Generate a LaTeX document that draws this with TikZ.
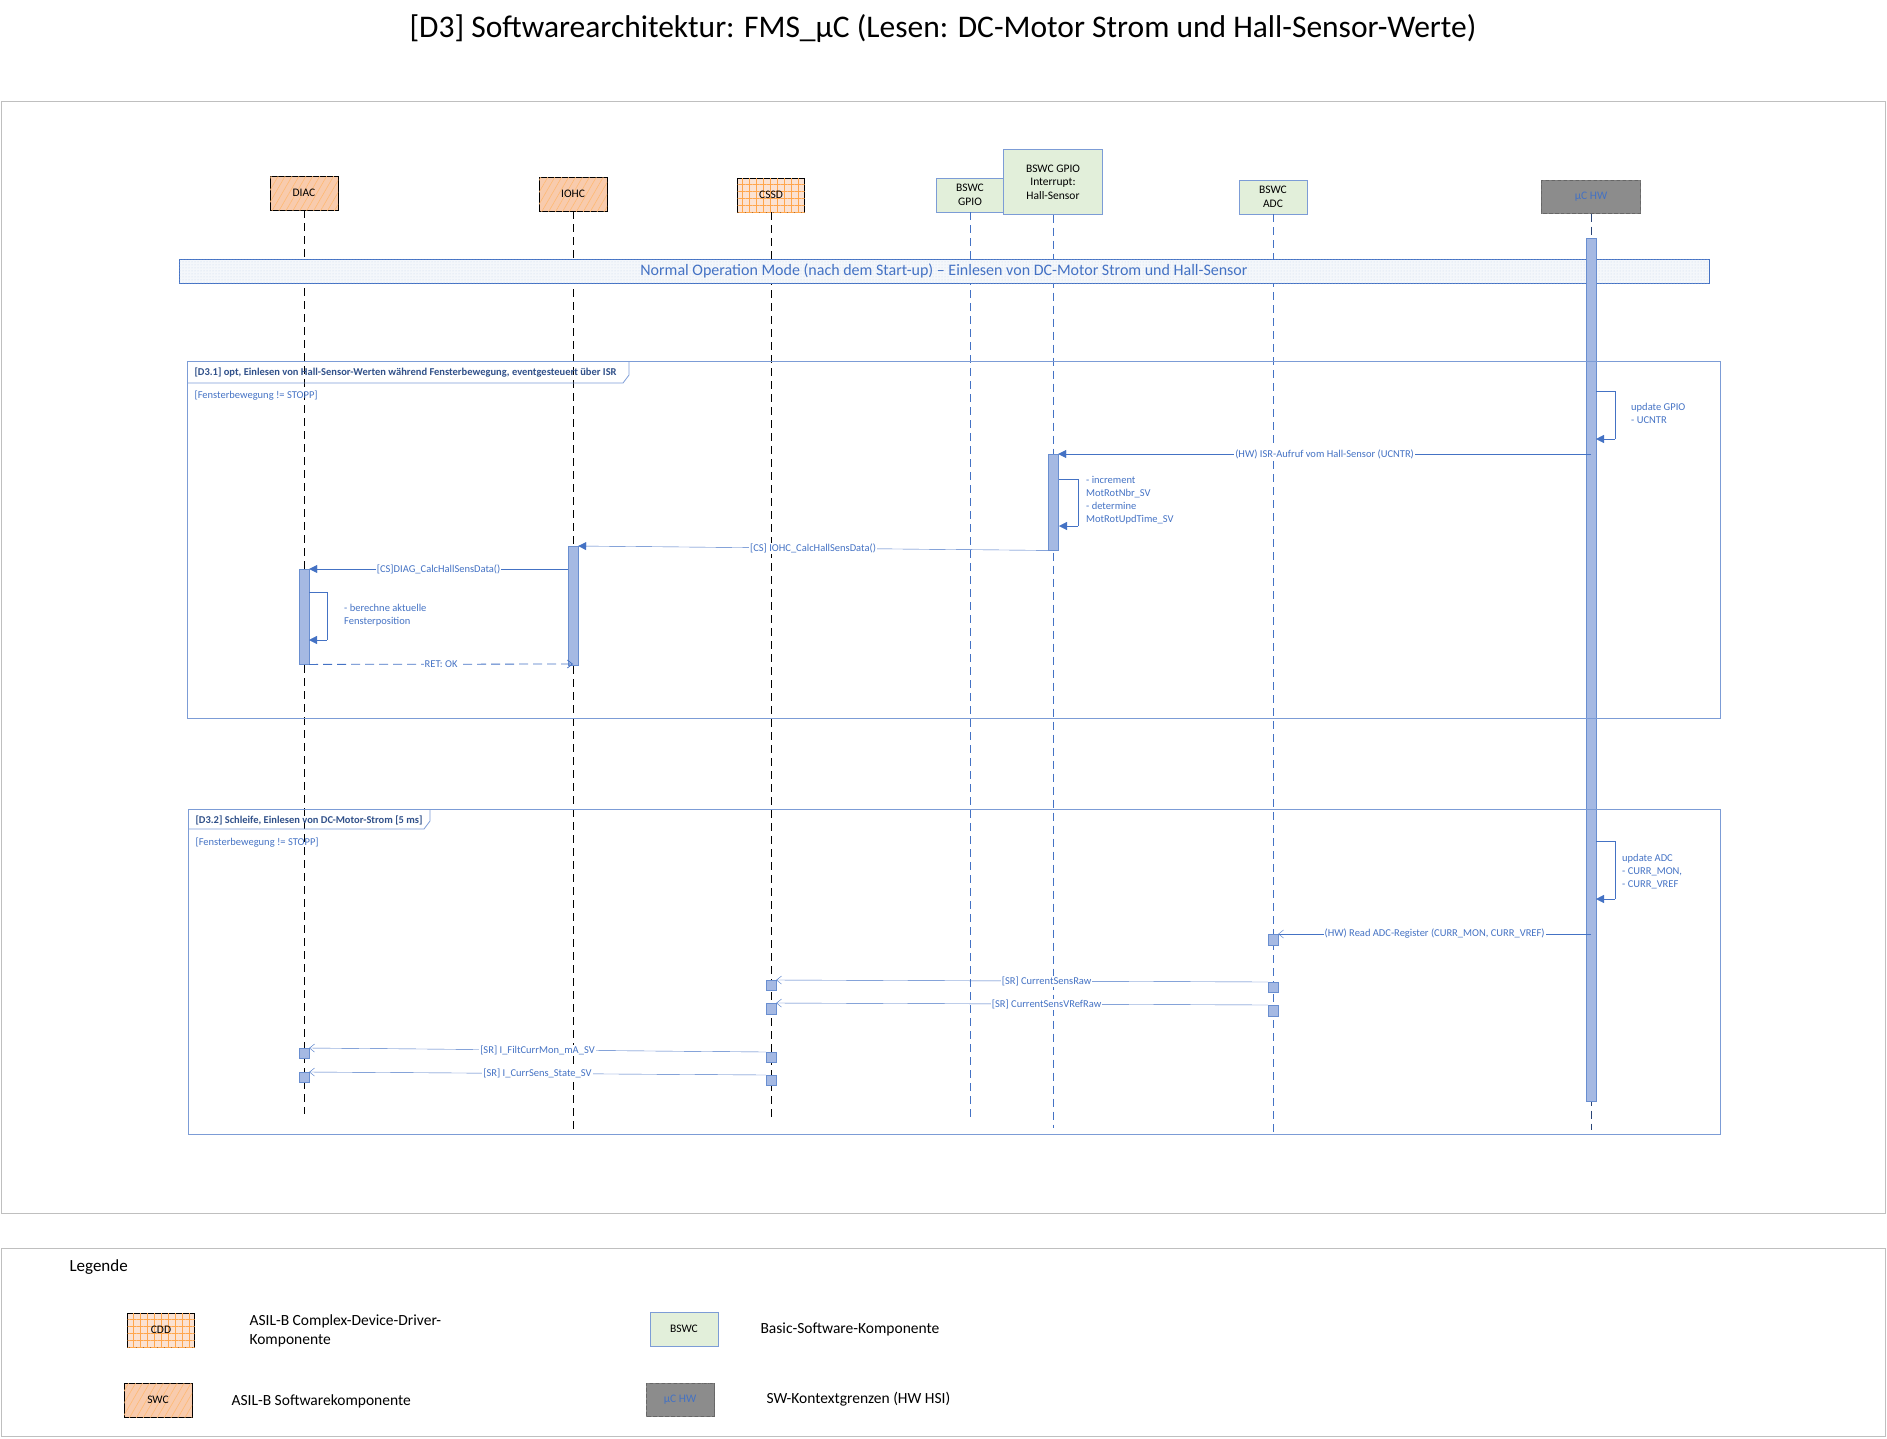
\documentclass[tikz,border=0pt]{standalone}
\usepackage{fontspec}
\setmainfont{Carlito}
\usetikzlibrary{patterns.meta,arrows.meta}
\definecolor{uml}{HTML}{4472C4}
\definecolor{actfill}{HTML}{A5B9E3}
\definecolor{swcfill}{HTML}{F8CBAD}
\definecolor{bswfill}{HTML}{E2EFDA}
\definecolor{hwfill}{HTML}{8C8C8C}

\begin{document}
\begin{tikzpicture}[x=1pt, y=-1pt,
    swc/.style={draw=black, thick, fill=swcfill, minimum width=68pt, minimum height=34pt,
        font=\fontsize{11.5}{13}\selectfont,
        postaction={pattern={Lines[angle=60, distance=6pt, line width=0.6pt]}, pattern color=orange!55}},
    cdd/.style={draw=black, thick, fill=swcfill!55, minimum width=67pt, minimum height=34pt,
        font=\fontsize{11.5}{13}\selectfont,
        postaction={pattern={Hatch[angle=0, distance=7pt, line width=1pt]}, pattern color=orange!70}},
    bsw/.style={draw=uml!70, fill=bswfill, minimum width=68pt, minimum height=34pt, align=center,
        font=\fontsize{11.5}{13.5}\selectfont},
    hw/.style={draw=black!60, fill=hwfill, minimum width=99pt, minimum height=33pt, text=uml,
        font=\fontsize{11.5}{13}\selectfont,
        postaction={pattern={Hatch[angle=45, distance=4pt, line width=0.6pt]}, pattern color=black!45}},
    life/.style={dashed, dash pattern=on 8pt off 5pt, thick},
    act/.style={draw=uml!80, fill=actfill, minimum width=10pt, inner sep=0pt},
    msg/.style={uml, -{Triangle[length=8pt,width=8pt]}},
    smsg/.style={uml, -{Straight Barb[length=5pt,width=8pt]}},
    lbl/.style={fill=white, inner sep=1pt, text=uml, font=\fontsize{10.5}{12}\selectfont},
    note/.style={anchor=north west, align=left, text=uml, inner sep=0pt, font=\fontsize{10.5}{13}\selectfont},
    frm/.style={draw=uml!70, thick},
    legtext/.style={anchor=west, align=left, font=\fontsize{15.5}{19}\selectfont}
]
\useasboundingbox (0,0) rectangle (1887,1438);
\node[font=\fontsize{31.5}{36}\selectfont] (title) at (943,29) {[D3] Softwarearchitektur: FMS\_µC (Lesen: DC-Motor Strom und Hall-Sensor-Werte)};
\draw[black!25] (1,101) rectangle (1885,1213);
\draw[black!25] (1,1248) rectangle (1885,1436);

% lifeline heads
\node[swc] (diac) at (304,193) {DIAC};
\node[swc] (iohc) at (573,194) {IOHC};
\node[cdd] (cssd) at (771,195) {CSSD};
\node[bsw] (gpio) at (970,195) {BSWC\\GPIO};
\node[bsw, minimum width=99pt, minimum height=65pt] (gpioint) at (1053,182) {BSWC GPIO\\Interrupt:\\Hall-Sensor};
\node[bsw] (adc) at (1273,197) {BSWC\\ADC};
\node[hw] (uchw) at (1591,197) {µC HW};

% lifelines
\coordinate (diacend) at (304,1114);
\coordinate (iohcend) at (573,1132);
\coordinate (cssdend) at (771,1118);
\coordinate (gpioend) at (970,1118);
\coordinate (gpiointend) at (1053,1128);
\coordinate (adcend) at (1273,1132);
\coordinate (uchwend) at (1591,1130);
\draw[life] (diac) -- (diacend);
\draw[life] (iohc) -- (iohcend);
\draw[life] (cssd) -- (cssdend);
\draw[life, uml] (gpio) -- (gpioend);
\draw[life, uml] (gpioint) -- (gpiointend);
\draw[life, uml] (adc) -- (adcend);
\draw[life, uml!60!black] (uchw) -- (uchwend);

% mode band
\node[draw=uml, fill=uml!6, postaction={pattern={Dots[distance=3pt, radius=0.5pt]}, pattern color=uml!30},
    minimum width=1530pt, minimum height=24pt] (band) at (944,271) {};
\node[text=uml, font=\fontsize{16}{19}\selectfont] (bandtxt) at (band) {Normal Operation Mode (nach dem Start-up) -- Einlesen von DC-Motor Strom und Hall-Sensor};

% uC HW activation
\node[act, minimum height=863pt, anchor=north] (hwact) at (1591,238) {};

% frame D3.1
\draw[frm] (187,361) rectangle (1720,718);
\draw[frm] (187,383) -- (623,383) -- (629,375) -- (629,361);
\node[anchor=west, text=uml!70!black, font=\bfseries\fontsize{10.5}{12}\selectfont] (f1) at (191,373) {[D3.1] opt, Einlesen von Hall-Sensor-Werten während Fensterbewegung, eventgesteuert über ISR};
\node[anchor=west, text=uml, font=\fontsize{10.5}{12}\selectfont] (g1) at (191,396) {[Fensterbewegung != STOPP]};

\coordinate (gl1a) at (1596,391);
\coordinate (gl1b) at (1615,391);
\coordinate (gl1c) at (1615,439);
\coordinate (gl1d) at (1596,439);
\draw[uml] (gl1a) -- (gl1b) -- (gl1c);
\draw[msg] (gl1c) -- (gl1d);
\node[note] (n1) at (1631,403) {update GPIO\\- UCNTR};

\node[act, minimum height=96pt, anchor=north] (gpioact) at (1053,454) {};
\coordinate (isrs) at (1591,454);
\draw[msg] (isrs) -- (gpioact.north east) node[lbl, pos=0.5] {(HW) ISR-Aufruf vom Hall-Sensor (UCNTR)};

\coordinate (gl2a) at (1059,479);
\coordinate (gl2b) at (1078,479);
\coordinate (gl2c) at (1078,526);
\coordinate (gl2d) at (1059,526);
\draw[uml] (gl2a) -- (gl2b) -- (gl2c);
\draw[msg] (gl2c) -- (gl2d);
\node[note] (n2) at (1086,476) {- increment\\MotRotNbr\_SV\\- determine\\MotRotUpdTime\_SV};

\node[act, minimum height=119pt, anchor=north] (iohcact) at (573,546) {};
\draw[msg] (gpioact.south west) -- (iohcact.north east) node[lbl, pos=0.5] {[CS] IOHC\_CalcHallSensData()};

\node[act, minimum height=95pt, anchor=north] (diacact) at (304,569) {};
\coordinate (diacsrc) at (568,569);
\draw[msg] (diacsrc) -- (diacact.north east) node[lbl, pos=0.5] {[CS]DIAG\_CalcHallSensData()};

\coordinate (dl1a) at (309,592);
\coordinate (dl1b) at (327,592);
\coordinate (dl1c) at (327,640);
\coordinate (dl1d) at (309,640);
\draw[uml] (dl1a) -- (dl1b) -- (dl1c);
\draw[msg] (dl1c) -- (dl1d);
\node[note] (n3) at (344,604) {- berechne aktuelle\\Fensterposition};

\coordinate (retdst) at (573,664);
\draw[uml, thick, dashed, dash pattern=on 9pt off 5pt, -{Straight Barb[length=5pt,width=8pt]}] (diacact.south east) -- (retdst) node[lbl, pos=0.5] {RET: OK};

% frame D3.2
\draw[frm] (188,809) rectangle (1720,1134);
\draw[frm] (188,829) -- (424,829) -- (430,821) -- (430,809);
\node[anchor=west, text=uml!70!black, font=\bfseries\fontsize{10.5}{12}\selectfont] (f2) at (192,820) {[D3.2] Schleife, Einlesen von DC-Motor-Strom [5 ms]};
\node[anchor=west, text=uml, font=\fontsize{10.5}{12}\selectfont] (g2) at (192,843) {[Fensterbewegung != STOPP]};

\coordinate (gl3a) at (1596,841);
\coordinate (gl3b) at (1615,841);
\coordinate (gl3c) at (1615,899);
\coordinate (gl3d) at (1596,899);
\draw[uml] (gl3a) -- (gl3b) -- (gl3c);
\draw[msg] (gl3c) -- (gl3d);
\node[note] (n4) at (1622,854) {update ADC\\- CURR\_MON,\\- CURR\_VREF};

\node[act, minimum height=11pt, anchor=north] (adcact1) at (1273,934) {};
\coordinate (adcsrc) at (1591,934);
\draw[smsg] (adcsrc) -- (adcact1.north east) node[lbl, pos=0.5] {(HW) Read ADC-Register (CURR\_MON, CURR\_VREF)};

\node[act, minimum height=10pt, anchor=north] (adcact2) at (1273,982) {};
\node[act, minimum height=10pt, anchor=north] (cssdact1) at (771,980) {};
\draw[smsg] (adcact2.north west) -- (cssdact1.north east) node[lbl, pos=0.45] {[SR] CurrentSensRaw};

\node[act, minimum height=11pt, anchor=north] (adcact3) at (1273,1005) {};
\node[act, minimum height=11pt, anchor=north] (cssdact2) at (771,1003) {};
\draw[smsg] (adcact3.north west) -- (cssdact2.north east) node[lbl, pos=0.45] {[SR] CurrentSensVRefRaw};

\node[act, minimum height=10pt, anchor=north] (cssdact3) at (771,1052) {};
\node[act, minimum height=10pt, anchor=north] (diacact2) at (304,1048) {};
\draw[smsg] (cssdact3.north west) -- (diacact2.north east) node[lbl, pos=0.5] {[SR] I\_FiltCurrMon\_mA\_SV};

\node[act, minimum height=10pt, anchor=north] (cssdact4) at (771,1075) {};
\node[act, minimum height=10pt, anchor=north] (diacact3) at (304,1072) {};
\draw[smsg] (cssdact4.north west) -- (diacact3.north east) node[lbl, pos=0.5] {[SR] I\_CurrSens\_State\_SV};

% legend
\node[anchor=west, font=\fontsize{17}{20}\selectfont] (leg) at (66,1267) {Legende};
\node[cdd] (legcdd) at (161,1330) {CDD};
\node[legtext] (legcddt) at (246,1331) {ASIL-B Complex-Device-Driver-\\Komponente};
\node[swc] (legswc) at (158,1400) {SWC};
\node[legtext] (legswct) at (228,1401) {ASIL-B Softwarekomponente};
\node[bsw] (legbsw) at (684,1329) {BSWC};
\node[legtext] (legbswt) at (757,1329) {Basic-Software-Komponente};
\node[hw, minimum width=68pt] (leghw) at (680,1400) {µC HW};
\node[legtext] (leghwt) at (763,1399) {SW-Kontextgrenzen (HW HSI)};
\end{tikzpicture}
\end{document}
